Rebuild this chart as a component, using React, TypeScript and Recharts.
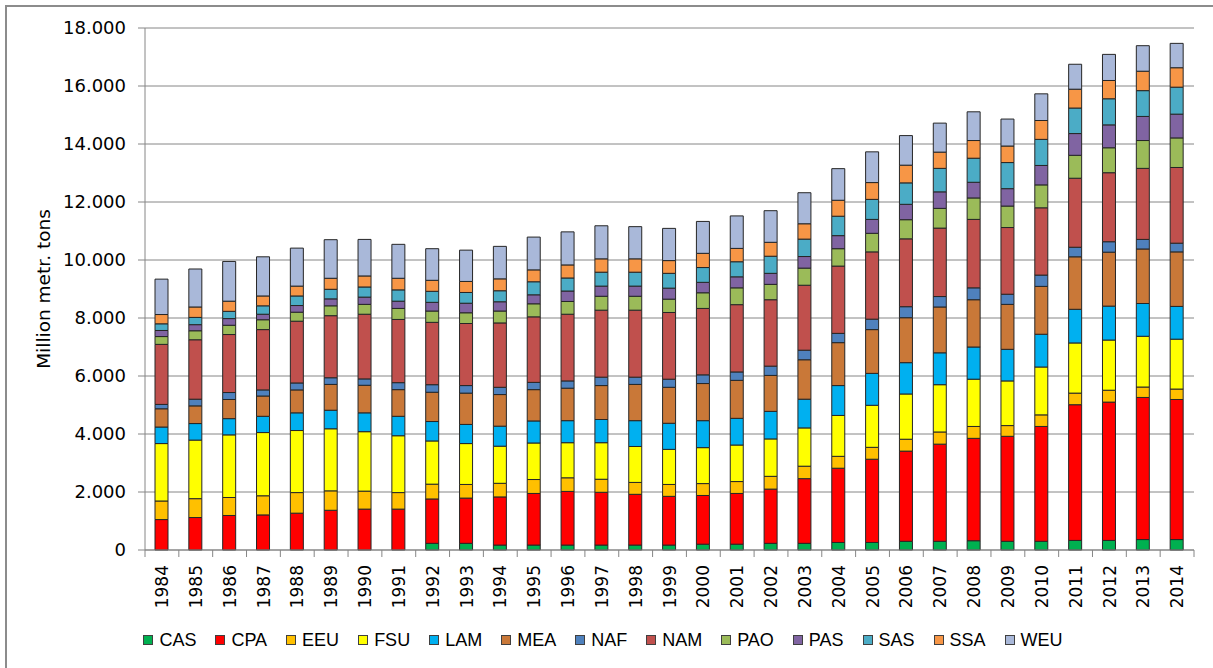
import { BarChart, Bar, XAxis, YAxis, CartesianGrid, Legend } from 'recharts'

const YEARS = [
    '1984', '1985', '1986', '1987', '1988', '1989', '1990', '1991', '1992', '1993', '1994',
    '1995', '1996', '1997', '1998', '1999', '2000', '2001', '2002', '2003', '2004', '2005',
    '2006', '2007', '2008', '2009', '2010', '2011', '2012', '2013', '2014',
]

const CAS = [0, 0, 0, 0, 0, 0, 0, 0, 230, 230, 170, 170, 170, 170, 170, 170, 200, 200, 230, 230, 260, 260, 300, 300, 320, 300, 300, 330, 330, 360, 360]
const CPA = [1050, 1120, 1190, 1210, 1270, 1370, 1410, 1410, 1530, 1560, 1660, 1780, 1850, 1820, 1750, 1680, 1680, 1750, 1870, 2230, 2560, 2870, 3110, 3350, 3530, 3620, 3960, 4680, 4770, 4900, 4830]
const EEU = [640, 650, 620, 660, 710, 670, 620, 570, 510, 470, 470, 480, 470, 450, 410, 410, 410, 410, 440, 430, 410, 410, 410, 420, 410, 370, 400, 400, 410, 360, 360]
const FSU = [1980, 2020, 2160, 2180, 2140, 2140, 2050, 1960, 1490, 1410, 1280, 1260, 1210, 1260, 1240, 1210, 1240, 1260, 1290, 1320, 1410, 1450, 1560, 1630, 1630, 1540, 1650, 1730, 1730, 1750, 1720]
const LAM = [570, 570, 560, 560, 610, 640, 650, 670, 670, 660, 690, 760, 760, 800, 890, 900, 930, 920, 950, 990, 1030, 1100, 1080, 1100, 1110, 1090, 1130, 1160, 1170, 1130, 1130]
const MEA = [630, 610, 660, 700, 790, 890, 950, 920, 1010, 1080, 1090, 1080, 1120, 1170, 1250, 1240, 1280, 1310, 1240, 1360, 1480, 1510, 1550, 1580, 1630, 1550, 1650, 1810, 1860, 1880, 1880]
const NAF = [150, 230, 240, 210, 240, 230, 220, 240, 260, 260, 250, 250, 250, 290, 250, 280, 300, 290, 320, 330, 320, 360, 380, 360, 410, 350, 390, 330, 360, 330, 300]
const NAM = [2070, 2050, 2000, 2080, 2130, 2140, 2230, 2180, 2150, 2140, 2220, 2260, 2300, 2310, 2310, 2300, 2290, 2320, 2290, 2240, 2320, 2320, 2340, 2360, 2360, 2300, 2320, 2380, 2380, 2450, 2610]
const PAO = [270, 310, 320, 340, 310, 340, 340, 380, 390, 370, 410, 450, 440, 480, 480, 460, 540, 580, 530, 590, 600, 640, 660, 680, 740, 740, 790, 790, 860, 960, 1020]
const PAS = [210, 210, 230, 190, 230, 240, 250, 250, 300, 330, 320, 310, 360, 350, 350, 380, 360, 380, 380, 400, 450, 480, 530, 570, 540, 600, 670, 750, 790, 830, 820]
const SAS = [230, 250, 250, 290, 330, 330, 350, 390, 380, 370, 380, 450, 450, 480, 480, 510, 510, 520, 590, 600, 670, 690, 740, 810, 830, 900, 900, 880, 900, 890, 930]
const SSA = [320, 360, 350, 340, 340, 380, 380, 400, 380, 380, 410, 410, 450, 460, 460, 440, 490, 460, 480, 530, 550, 580, 610, 560, 610, 570, 650, 650, 630, 670, 670]
const WEU = [1220, 1310, 1370, 1350, 1310, 1330, 1260, 1170, 1090, 1080, 1120, 1130, 1140, 1140, 1110, 1110, 1100, 1120, 1090, 1070, 1090, 1060, 1020, 1000, 990, 930, 920, 860, 900, 880, 840]

const Y_TICKS = [0, 2000, 4000, 6000, 8000, 10000, 12000, 14000, 16000, 18000]

const SERIES = [
    { key: 'CAS', values: CAS, color: '#00B050' },
    { key: 'CPA', values: CPA, color: '#FF0000' },
    { key: 'EEU', values: EEU, color: '#FFC000' },
    { key: 'FSU', values: FSU, color: '#FFFF00' },
    { key: 'LAM', values: LAM, color: '#00B0F0' },
    { key: 'MEA', values: MEA, color: '#C97838' },
    { key: 'NAF', values: NAF, color: '#4F81BD' },
    { key: 'NAM', values: NAM, color: '#C0504D' },
    { key: 'PAO', values: PAO, color: '#9BBB59' },
    { key: 'PAS', values: PAS, color: '#8064A2' },
    { key: 'SAS', values: SAS, color: '#4BACC6' },
    { key: 'SSA', values: SSA, color: '#F79646' },
    { key: 'WEU', values: WEU, color: '#A9B8D9' },
]

const data = YEARS.map((year, i) => {
    const row: Record<string, string | number> = { year }
    SERIES.forEach(s => { row[s.key] = s.values[i] })
    return row
})

const W = 1213
const H = 668
const PLOT_LEFT = 145
const PLOT_RIGHT = 1194
const BAND = (PLOT_RIGHT - PLOT_LEFT) / YEARS.length
const AXIS_COLOR = '#868686'
const FONT = '"DejaVu Sans", Verdana, sans-serif'

const fmt = (v: number) => String(v).replace(/\B(?=(\d{3})+(?!\d))/g, '.')

function YearTick(props: any) {
    const { x, y, payload, index } = props
    return (
        <g>
            <line x1={x - BAND / 2} x2={x - BAND / 2} y1={y - 8} y2={y - 1} stroke={AXIS_COLOR} />
            {index === YEARS.length - 1 && (
                <line x1={x + BAND / 2} x2={x + BAND / 2} y1={y - 8} y2={y - 1} stroke={AXIS_COLOR} />
            )}
            <text
                transform={`translate(${x},${y + 7}) rotate(-90)`}
                textAnchor="end"
                dy="0.36em"
                fontSize={17}
                fontFamily={FONT}
                fill="#000"
            >
                {payload.value}
            </text>
        </g>
    )
}

function LegendBox({ payload }: any) {
    const items = payload || []
    return (
        <div style={{ display: 'flex', justifyContent: 'center', alignItems: 'center', height: 40, paddingLeft: 12 }}>
            {items.map((p: any, i: number) => (
                <div key={p.value} style={{ display: 'flex', alignItems: 'center', marginRight: i === items.length - 1 ? 0 : 19 }}>
                    <span style={{ width: 8, height: 8, background: p.color, border: '1px solid #404040', marginRight: 6 }} />
                    <span style={{ fontFamily: '"Liberation Sans", Arial, sans-serif', fontSize: 18, color: '#000' }}>{p.value}</span>
                </div>
            ))}
        </div>
    )
}

function YLabel({ viewBox }: any) {
    const cy = viewBox.y + viewBox.height / 2
    return (
        <text
            transform={`translate(43,${cy}) rotate(-90)`}
            textAnchor="middle"
            dy="0.36em"
            fontSize={18.5}
            fontFamily={FONT}
            fill="#000"
        >
            Million metr. tons
        </text>
    )
}

export default function App() {
    return (
        <div style={{ position: 'absolute', left: 0, top: 0, width: W, height: H, overflow: 'hidden', background: '#fff' }}>
            <div style={{ position: 'absolute', left: 5, top: 5, width: W + 20, height: H + 20, border: '2px solid #8c8c8c' }} />
            <div style={{ position: 'absolute', left: 0, top: 0 }}>
                <BarChart
                    width={W}
                    height={H}
                    data={data}
                    margin={{ top: 28, right: W - PLOT_RIGHT, left: 0, bottom: 8 }}
                    barSize={13}
                >
                    <CartesianGrid vertical={false} stroke={AXIS_COLOR} strokeWidth={1} />
                    <XAxis
                        dataKey="year"
                        height={70}
                        interval={0}
                        tickLine={false}
                        axisLine={{ stroke: AXIS_COLOR }}
                        tick={<YearTick />}
                    />
                    <YAxis
                        width={PLOT_LEFT}
                        domain={[0, 18000]}
                        ticks={Y_TICKS}
                        tickFormatter={fmt}
                        tickSize={7}
                        tickMargin={12}
                        axisLine={{ stroke: AXIS_COLOR }}
                        tickLine={{ stroke: AXIS_COLOR }}
                        tick={{ fontSize: 18, fontFamily: FONT, fill: '#000' }}
                        label={<YLabel />}
                    />
                    <Legend verticalAlign="bottom" content={<LegendBox />} />
                    {SERIES.map(s => (
                        <Bar
                            key={s.key}
                            dataKey={s.key}
                            stackId="a"
                            fill={s.color}
                            stroke="#262626"
                            strokeWidth={1}
                            isAnimationActive={false}
                        />
                    ))}
                </BarChart>
            </div>
        </div>
    )
}
